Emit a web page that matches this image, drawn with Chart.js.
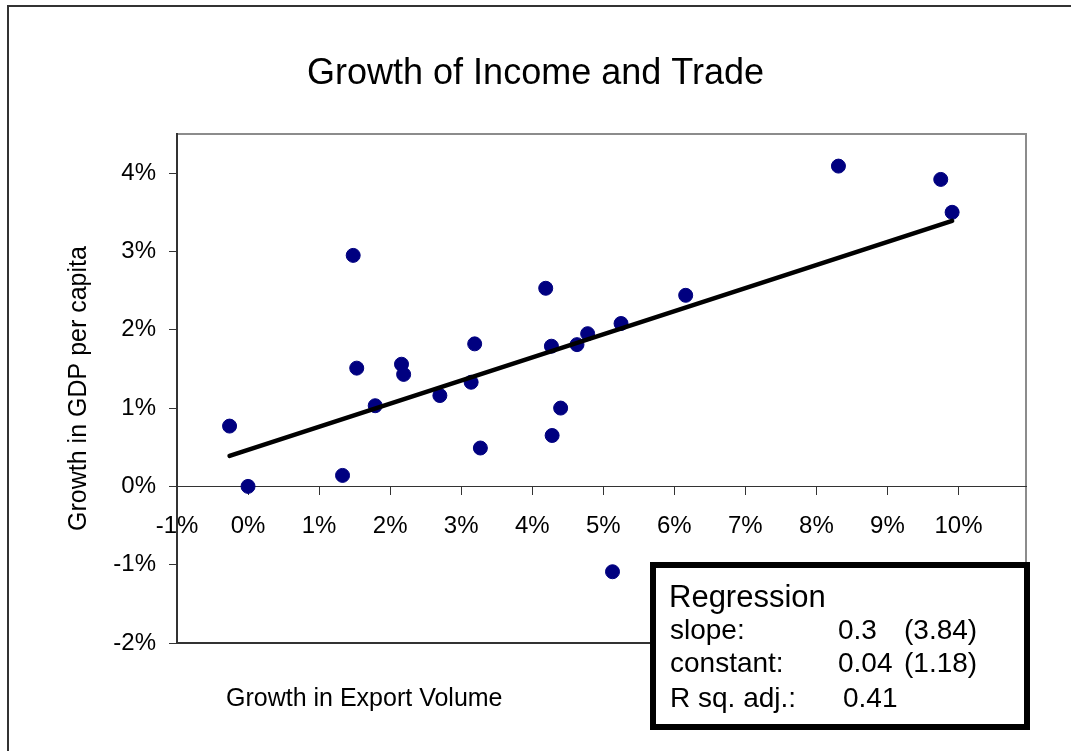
<!DOCTYPE html>
<html lang="en">
<head>
    <meta charset="UTF-8">
    <title>Growth of Income and Trade</title>
    <script src="https://cdn.jsdelivr.net/npm/chart.js"></script>
    <style>
        body { margin: 0; background: #fff; font-family: "Liberation Sans", Arial, sans-serif; }
        #wrap { position: relative; width: 1071px; height: 751px; overflow: hidden; }
        #frame { position: absolute; left: 7px; top: 5px; width: 1100px; height: 800px;
                 border-left: 2px solid #333; border-top: 2px solid #333; pointer-events: none; }
        .txt { position: absolute; white-space: nowrap; line-height: 1; color: #000; }
        #xlabel { left: 226px; top: 685px; font-size: 25px; }
        #reg { position: absolute; left: 650px; top: 562px; width: 380px; height: 168px;
               box-sizing: border-box; border: 6px solid #000; background: #fff; }
    </style>
</head>
<body>
<div id="wrap">
    <canvas id="myChart"></canvas>
    <div id="frame"></div>
    <div id="xlabel" class="txt">Growth in Export Volume</div>
    <div id="reg"></div>
</div>

<script>
    // growth in export volume (%), growth in GDP per capita (%)
    const exportGrowth = [-0.26, 0.0, 1.33, 1.48, 1.53, 1.79, 2.16, 2.19, 2.70, 3.14, 3.19, 3.27,
        4.19, 4.27, 4.28, 4.40, 4.63, 4.78, 5.25, 5.13, 6.16, 8.31, 9.75, 9.91];
    const gdpGrowth = [0.77, 0.0, 0.14, 2.95, 1.51, 1.03, 1.56, 1.43, 1.16, 1.33, 1.82, 0.49,
        2.53, 1.79, 0.65, 1.00, 1.81, 1.95, 2.08, -1.09, 2.44, 4.09, 3.92, 3.50];

    // fitted line end points
    const fitX = [-0.26, 9.91];
    const fitY = [0.39, 3.39];

    // tick values (shown as %)
    const xTicks = [-1, 0, 1, 2, 3, 4, 5, 6, 7, 8, 9, 10];
    const yTicks = [-2, -1, 0, 1, 2, 3, 4];

    const regressionRows = [
        ['slope:', '0.3', '(3.84)'],
        ['constant:', '0.04', '(1.18)'],
        ['R sq. adj.:', '0.41', '']
    ];

    // regression box text
    const reg = document.getElementById('reg');
    function addText(text, left, top, size) {
        const d = document.createElement('div');
        d.className = 'txt';
        d.textContent = text;
        d.style.left = (left - 656) + 'px';
        d.style.top = (top - 568) + 'px';
        d.style.fontSize = size + 'px';
        reg.appendChild(d);
    }
    addText('Regression', 669, 581, 31);
    const baselines = [640, 673, 708];
    regressionRows.forEach((row, i) => {
        const top = baselines[i] - 23.7;
        addText(row[0], 670, top, 28);
        addText(row[1], i === 2 ? 843 : 838, top, 28);
        if (row[2]) addText(row[2], 904, top, 28);
    });

    Chart.defaults.font.family = '"Liberation Sans", Arial, sans-serif';
    Chart.defaults.color = '#000';

    const framePlugin = {
        id: 'frame',
        beforeDraw(chart) {
            const a = chart.chartArea;
            const c = chart.ctx;
            c.save();
            c.strokeStyle = '#8c8c8c';
            c.lineWidth = 2;
            c.beginPath();
            c.moveTo(a.left, a.top);
            c.lineTo(a.right, a.top);
            c.lineTo(a.right, a.bottom);
            c.stroke();
            c.strokeStyle = '#333';
            c.beginPath();
            c.moveTo(a.left, a.bottom);
            c.lineTo(a.right, a.bottom);
            c.stroke();
            c.restore();
        }
    };

    const ctx = document.getElementById('myChart').getContext('2d');
    new Chart(ctx, {
        type: 'scatter',
        data: {
            datasets: [{
                type: 'line',
                data: fitX.map((x, i) => ({x: x, y: fitY[i]})),
                borderColor: '#000',
                borderWidth: 4.5,
                borderCapStyle: 'round',
                pointRadius: 0,
                fill: false,
                order: 0
            }, {
                data: exportGrowth.map((x, i) => ({x: x, y: gdpGrowth[i]})),
                backgroundColor: '#000080',
                borderColor: '#000080',
                borderWidth: 1,
                pointRadius: 7,
                order: 1
            }]
        },
        options: {
            responsive: true,
            maintainAspectRatio: false,
            animation: false,
            layout: { padding: { top: 0, right: 45, bottom: 108, left: 45 } },
            plugins: {
                legend: { display: false },
                tooltip: { enabled: false },
                title: {
                    display: true,
                    text: 'Growth of Income and Trade',
                    font: { size: 36, weight: 'normal' },
                    color: '#000',
                    padding: { top: 52, bottom: 38.8 }
                }
            },
            scales: {
                x: {
                    type: 'linear',
                    position: { y: 0 },
                    min: -1,
                    max: 10.95,
                    afterBuildTicks: scale => { scale.ticks = xTicks.map(v => ({value: v})); },
                    ticks: {
                        padding: 18,
                        font: { size: 24 },
                        color: '#000',
                        callback: v => v + '%'
                    },
                    grid: { drawOnChartArea: false, tickLength: 8, color: '#333' },
                    border: { color: '#333', width: 1 }
                },
                y: {
                    type: 'linear',
                    min: -2,
                    max: 4.5,
                    afterBuildTicks: scale => { scale.ticks = yTicks.map(v => ({value: v})); },
                    afterFit: scale => { scale.width = 132; },
                    ticks: {
                        padding: 13,
                        font: { size: 24 },
                        color: '#000',
                        callback: v => v + '%'
                    },
                    grid: { drawOnChartArea: false, tickLength: 8, color: '#333' },
                    border: { color: '#333', width: 2 },
                    title: {
                        display: true,
                        text: 'Growth in GDP per capita',
                        font: { size: 25 },
                        color: '#000',
                        padding: { top: 19, bottom: 0 }
                    }
                }
            }
        },
        plugins: [framePlugin]
    });
</script>
</body>
</html>
